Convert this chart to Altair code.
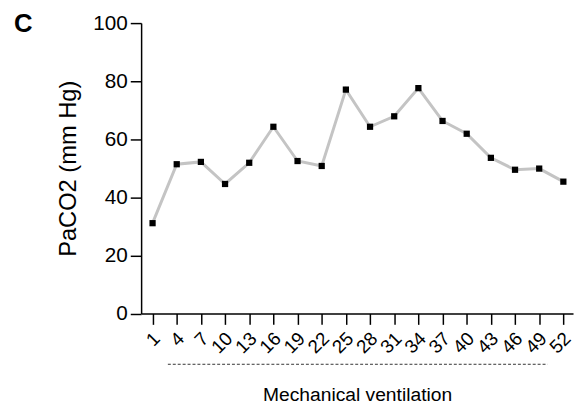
import altair as alt
import pandas as pd

days = [1, 4, 7, 10, 13, 16, 19, 22, 25, 28, 31, 34, 37, 40, 43, 46, 49, 52]
paco2 = [31.1, 51.4, 52.2, 44.6, 51.9, 64.3, 52.5, 50.8, 77.1, 64.3, 67.9, 77.6, 66.3, 61.9, 53.6, 49.5, 49.9, 45.4]
y_ticks = [0, 20, 40, 60, 80, 100]
bar_start, bar_end = [2.9], [50.05]
panel_label = ["C"]
x_title = "Mechanical ventilation"
y_title = "PaCO2 (mm Hg)"

df = pd.DataFrame({"day": days, "paco2": paco2})
FONT = "Liberation Sans"

x_scale = alt.Scale(domain=[-0.42, 53.2], nice=False, zero=False)
y_scale = alt.Scale(domain=[0, 100], nice=False)

x_axis = alt.Axis(values=days, title=x_title, labelAngle=-45,
                  labelAlign="right", labelBaseline="middle",
                  labelPadding=11, labelOffset=4, tickSize=11, grid=False,
                  titlePadding=29, labelFlush=False, labelOverlap=False)
y_axis = alt.Axis(values=y_ticks, title=y_title, tickSize=11,
                  labelPadding=3, grid=False, titlePadding=13)

base = alt.Chart(df)

line = base.mark_line(color="#c4c4c4", strokeWidth=3).encode(
    x=alt.X("day:Q", scale=x_scale, axis=x_axis),
    y=alt.Y("paco2:Q", scale=y_scale, axis=y_axis),
)

points = base.mark_point(shape="square", filled=True, color="black", size=40, opacity=1).encode(
    x=alt.X("day:Q", scale=x_scale, axis=x_axis),
    y=alt.Y("paco2:Q", scale=y_scale, axis=y_axis),
)

bar_df = pd.DataFrame({"s": bar_start, "e": bar_end})
dash = alt.Chart(bar_df).mark_rule(color="#333333", strokeWidth=1, strokeDash=[3, 2]).encode(
    x=alt.X("s:Q", scale=x_scale, axis=x_axis),
    x2="e:Q",
    y=alt.value(346),
)

lab_df = pd.DataFrame({"t": panel_label})
label = alt.Chart(lab_df).mark_text(font=FONT, fontSize=26, fontWeight="bold",
                                    align="left", baseline="alphabetic", color="black").encode(
    text="t:N", x=alt.value(-129), y=alt.value(9)
)

chart = alt.layer(line, points, dash, label).properties(
    width=438, height=294.5,
    autosize=alt.AutoSizeParams(type="none"),
    padding={"left": 135, "top": 12.5, "right": 2, "bottom": 91},
).configure_view(stroke=None).configure_axis(
    domainColor="black", tickColor="black", domainWidth=1.5, tickWidth=1.5,
    labelColor="black", titleColor="black", labelFont=FONT, titleFont=FONT,
    titleFontWeight="normal",
).configure_axisY(labelFontSize=21, titleFontSize=24).configure_axisX(
    labelFontSize=19, titleFontSize=19.5, labelOverlap=False
)

chart.save("out.html", embed_options={"renderer": "svg", "actions": False})
